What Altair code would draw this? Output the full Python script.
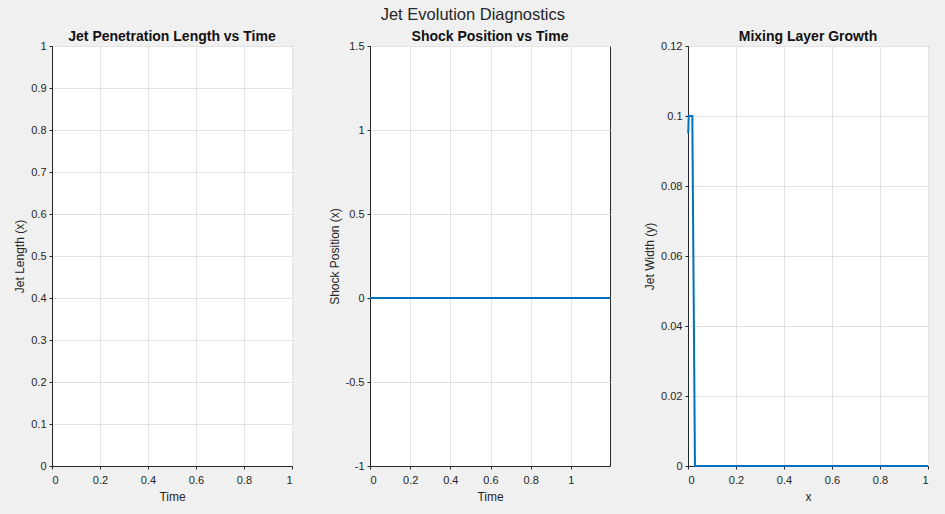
import altair as alt
import pandas as pd

# Panel 1: Jet penetration length (no data plotted)
jet_time = []
jet_length = []

# Panel 2: Shock position vs time
shock_time = [0.0, 1.195]
shock_pos = [0.0, 0.0]

# Panel 3: Mixing layer growth
mix_x = [0.001, 0.003, 0.018, 0.029, 1.0]
mix_w = [0.095, 0.100, 0.100, 0.0, 0.0]

# Tick values
x_ticks = [0, 0.2, 0.4, 0.6, 0.8, 1]
y1_ticks = [0, 0.1, 0.2, 0.3, 0.4, 0.5, 0.6, 0.7, 0.8, 0.9, 1]
y2_ticks = [-1, -0.5, 0, 0.5, 1, 1.5]
y3_ticks = [0, 0.02, 0.04, 0.06, 0.08, 0.1, 0.12]

LINE = "#0072BD"
TXT = "#262626"
FONT = "Liberation Sans"
W, H = 240, 420


def xaxis(title, values):
    return alt.Axis(title=title, values=values, grid=True, gridColor="#e3e3e3",
                    domainColor=TXT, tickColor=TXT, tickSize=3,
                    labelColor=TXT, titleColor=TXT, labelFont=FONT,
                    titleFont=FONT, labelFontSize=11,
                    labelExpr="'' + datum.value", titlePadding=6,
                    titleFontSize=12, titleFontWeight="normal", labelPadding=5)


def yaxis(title, values):
    return alt.Axis(title=title, values=values, grid=True, gridColor="#e3e3e3",
                    domainColor=TXT, tickColor=TXT, tickSize=3,
                    labelColor=TXT, titleColor=TXT, labelFont=FONT,
                    titleFont=FONT, labelFontSize=11,
                    labelExpr="'' + datum.value",
                    titleFontSize=12, titleFontWeight="normal", labelPadding=3)


def sub_title(t):
    return alt.TitleParams(t, font=FONT, fontSize=14, fontWeight="bold",
                           color="#111111", offset=-4)


p1_df = pd.DataFrame({"Time": pd.Series(jet_time, dtype=float),
                      "Length": pd.Series(jet_length, dtype=float)})
p1 = alt.Chart(p1_df).mark_line(color=LINE, strokeWidth=2).encode(
    x=alt.X("Time:Q", scale=alt.Scale(domain=[0, 1], nice=False),
            axis=xaxis("Time", x_ticks)),
    y=alt.Y("Length:Q", scale=alt.Scale(domain=[0, 1], nice=False),
            axis=yaxis("Jet Length (x)", y1_ticks)),
).properties(width=W, height=H, title=sub_title("Jet Penetration Length vs Time"))

p2_df = pd.DataFrame({"Time": shock_time, "Shock": shock_pos})
p2 = alt.Chart(p2_df).mark_line(color=LINE, strokeWidth=2).encode(
    x=alt.X("Time:Q", scale=alt.Scale(domain=[0, 1.195], nice=False),
            axis=xaxis("Time", x_ticks)),
    y=alt.Y("Shock:Q", scale=alt.Scale(domain=[-1, 1.5], nice=False),
            axis=yaxis("Shock Position (x)", y2_ticks)),
).properties(width=W, height=H, title=sub_title("Shock Position vs Time"))

p3_df = pd.DataFrame({"x": mix_x, "w": mix_w})
p3 = alt.Chart(p3_df).mark_line(color=LINE, strokeWidth=2).encode(
    x=alt.X("x:Q", scale=alt.Scale(domain=[0, 1], nice=False),
            axis=xaxis("x", x_ticks)),
    y=alt.Y("w:Q", scale=alt.Scale(domain=[0, 0.12], nice=False),
            axis=yaxis("Jet Width (y)", y3_ticks)),
).properties(width=W, height=H, title=sub_title("Mixing Layer Growth"))

chart = alt.hconcat(p1, p2, p3, spacing=78, bounds="flush").properties(
    title=alt.TitleParams("Jet Evolution Diagnostics", font=FONT, fontSize=16.5,
                          fontWeight="normal", color=TXT, anchor="middle", offset=6),
    background="#f0f0f0",
    padding={"left": 13, "top": 7, "right": 12, "bottom": 11},
).configure_view(fill="white", stroke=TXT, strokeWidth=1)

chart.save("out.html", embed_options={"renderer": "svg", "actions": False})
